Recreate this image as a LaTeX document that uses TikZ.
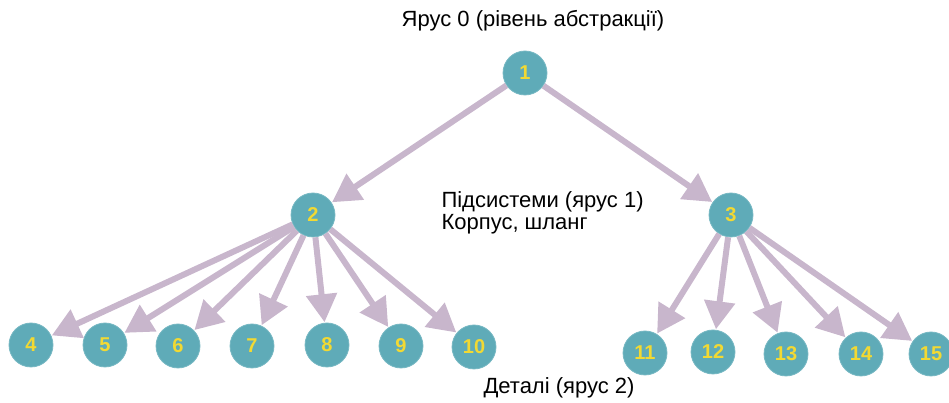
\documentclass[tikz,border=0pt]{standalone}
\usepackage{fontspec}
\setmainfont{Liberation Sans}
\usetikzlibrary{arrows.meta}

\definecolor{nodeteal}{RGB}{95,171,184}
\definecolor{numyellow}{RGB}{242,217,51}
\definecolor{linkgrey}{RGB}{200,182,204}

\begin{document}
\begin{tikzpicture}[x=1pt,y=1pt,
	vert/.style={circle,fill=nodeteal,draw=nodeteal!85!white,line width=0.8pt,minimum size=44pt,inner sep=0pt,
		font=\fontsize{20}{20}\selectfont\bfseries,text=numyellow},
	link/.style={draw=linkgrey,line width=6pt,-{Triangle[length=28pt,width=30pt]},shorten >=0.5pt},
	tier/.style={font=\fontsize{22}{22}\selectfont,text=black}]

	% Frame
	\useasboundingbox (0,0) rectangle (949,403);

	% Levels
	\node[vert] (n1) at (525,330) {1};
	\node[vert] (n2) at (313,188) {2};
	\node[vert] (n3) at (731,188) {3};
	\node[vert] (n4) at (31,58) {4};
	\node[vert] (n5) at (105,58) {5};
	\node[vert] (n6) at (178,57) {6};
	\node[vert] (n7) at (252,57) {7};
	\node[vert] (n8) at (327,58) {8};
	\node[vert] (n9) at (401,57) {9};
	\node[vert] (n10) at (474,56) {10};
	\node[vert] (n11) at (645,50) {11};
	\node[vert] (n12) at (713,51) {12};
	\node[vert] (n13) at (786,49) {13};
	\node[vert] (n14) at (861,49) {14};
	\node[vert] (n15) at (931,49) {15};

	% Links
	\draw[link] (n1) -- (n2);
	\draw[link] (n1) -- (n3);
	\foreach \c in {4,...,10}
		\draw[link] (n2) -- (n\c);
	\foreach \c in {11,...,15}
		\draw[link] (n3) -- (n\c);

	% Labels
	\node[tier] (t0) at (533,382) {Ярус 0 (рівень абстракції)};
	\node[tier,anchor=west,align=left] (t1) at (438,190) {Підсистеми (ярус 1)\\Корпус, шланг};
	\node[tier] (t2) at (559,15) {Деталі (ярус 2)};

\end{tikzpicture}
\end{document}
